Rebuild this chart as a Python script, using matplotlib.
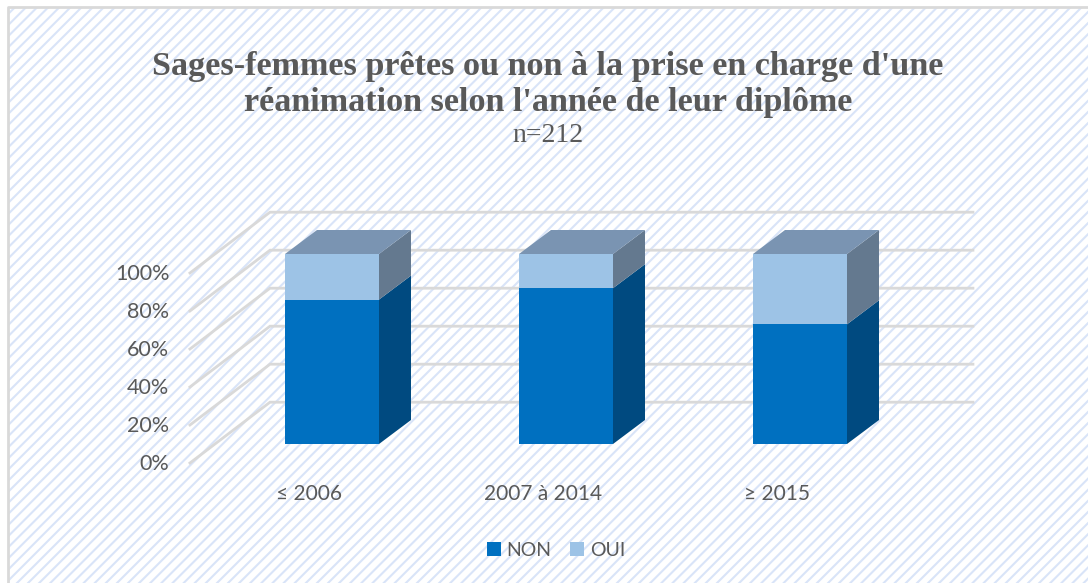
import matplotlib
matplotlib.use("Agg")
import matplotlib.pyplot as plt
from matplotlib.patches import Polygon, Rectangle

categories = ["≤ 2006", "2007 à 2014", "≥ 2015"]
non_values = [76, 82, 63]
oui_values = [24, 18, 37]
tick_values = [0, 20, 40, 60, 80, 100]
tick_labels = ["0%", "20%", "40%", "60%", "80%", "100%"]

NON_COLOR = "#0070C0"
OUI_COLOR = "#9DC3E6"
NON_SIDE = "#004A80"
OUI_SIDE = "#64798F"
TOP_COLOR = "#7A94B2"
GRID_COLOR = "#D9D9D9"
TEXT_COLOR = "#595959"

plt.rcParams["hatch.linewidth"] = 1.5
plt.rcParams["hatch.color"] = "#D9E4F8"

fig = plt.figure(figsize=(10.88, 5.83), dpi=100, facecolor="white")
ax = fig.add_axes([0, 0, 1, 1])
# one category = 234 px, 1% = 1.9 px, same pixel layout as the reference
ax.set_xlim(-332 / 234, (1088 - 332) / 234)
ax.set_ylim((444 - 583) / 1.9, 444 / 1.9)
ax.axis("off")

# background panel
x0, y0 = -324 / 234, (444 - 583) / 1.9
ax.add_patch(Rectangle((x0, y0), 4.7, (576 / 1.9), facecolor="white", hatch="///",
                       edgecolor="#D9E4F8", linewidth=0, zorder=0))
ax.plot([x0, x0, 3.3], [y0, 437 / 1.9, 437 / 1.9], color=GRID_COLOR, lw=2, zorder=1)

# walls of the 3D box
left_front, left_back, right_back = -0.607, -0.265, 2.739
for t in tick_values:
    ax.plot([left_front, left_back, right_back], [t - 10, t + 22, t + 22],
            color=GRID_COLOR, lw=2, solid_joinstyle="miter", zorder=2)

# 3D stacked bars
width = 94 / 234
dx = 32 / 234
dy = 24 / 1.9
for i, (non, oui) in enumerate(zip(non_values, oui_values)):
    left = i - width / 2
    right = i + width / 2
    ax.add_patch(Rectangle((left, 0), width, non, facecolor=NON_COLOR, zorder=4))
    ax.add_patch(Rectangle((left, non), width, oui, facecolor=OUI_COLOR, zorder=4))
    ax.add_patch(Polygon([(right, 0), (right + dx, dy), (right + dx, non + dy), (right, non)],
                         facecolor=NON_SIDE, zorder=4))
    ax.add_patch(Polygon([(right, non), (right + dx, non + dy),
                          (right + dx, non + oui + dy), (right, non + oui)],
                         facecolor=OUI_SIDE, zorder=4))
    top = non + oui
    ax.add_patch(Polygon([(left, top), (left + dx, top + dy), (right + dx, top + dy), (right, top)],
                         facecolor=TOP_COLOR, zorder=4))
    ax.text(i - 0.1, -26.5, categories[i], ha="center", va="center", fontsize=15,
            family="Lato", color=TEXT_COLOR, zorder=5)

for t, label in zip(tick_values, tick_labels):
    ax.text(-0.695, t - 10.7, label, ha="right", va="center", fontsize=15.5,
            family="Lato", color=TEXT_COLOR, zorder=5)

# title
fig.text(548 / 1088, 1 - 84.5 / 583, "Sages-femmes prêtes ou non à la prise en charge d'une\nréanimation selon l'année de leur diplôme",
         ha="center", va="center", fontsize=24.6, fontweight="bold", family="Liberation Serif",
         color=TEXT_COLOR, linespacing=1.2)
fig.text(548 / 1088, 1 - 135 / 583, "n=212", ha="center", va="center", fontsize=20,
         family="Liberation Serif", color=TEXT_COLOR)

# legend
legend_handles = [Rectangle((0, 0), 1, 1, facecolor=NON_COLOR), Rectangle((0, 0), 1, 1, facecolor=OUI_COLOR)]
leg = ax.legend(legend_handles, ["NON", "OUI"], loc="center", bbox_to_anchor=(556 / 1088, 1 - 550 / 583),
                ncol=2, frameon=False, handlelength=0.72, handleheight=0.72, handletextpad=0.3,
                columnspacing=0.95, prop={"family": "Lato", "size": 14}, labelcolor=TEXT_COLOR)

fig.savefig("out.png", dpi=100)
